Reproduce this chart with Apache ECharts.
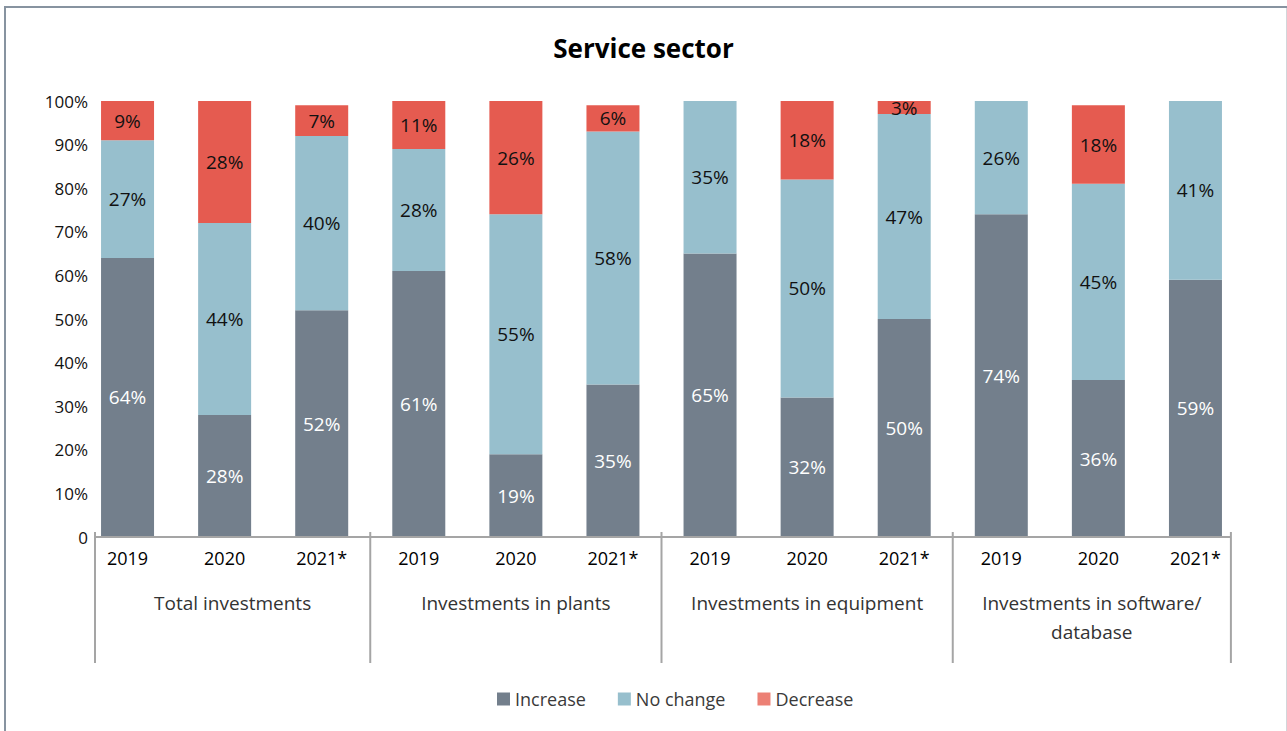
<!DOCTYPE html>
<html>
<head>
<meta charset="utf-8">
<script src="https://cdn.jsdelivr.net/npm/echarts@6/dist/echarts.min.js"></script>
<style>
  html, body { margin: 0; padding: 0; background: #ffffff; }
  #chart { width: 1287px; height: 731px; }
</style>
</head>
<body>
<div id="chart"></div>
<script>
// Survey answers, in percent, for each investment type and year
const years = ['2019', '2020', '2021*', '2019', '2020', '2021*', '2019', '2020', '2021*', '2019', '2020', '2021*'];
const groups = ['Total investments', 'Investments in plants', 'Investments in equipment', 'Investments in software/\ndatabase'];
const increase = [64, 28, 52, 61, 19, 35, 65, 32, 50, 74, 36, 59];
const noChange = [27, 44, 40, 28, 55, 58, 35, 50, 47, 26, 45, 41];
const decrease = [9, 28, 7, 11, 26, 6, 0, 18, 3, 0, 18, 0];
const yTicks = [0, 10, 20, 30, 40, 50, 60, 70, 80, 90, 100];

const FONT = 'Open Sans';
const COLORS = { increase: '#737f8c', noChange: '#97bfcd', decrease: '#e55b50' };

function pctLabel(p) {
  return p.value ? p.value + '%' : '';
}

function barSeries(name, values, color, labelColor) {
  return {
    name: name,
    type: 'bar',
    stack: 'answers',
    data: values,
    barWidth: 53,
    itemStyle: { color: color },
    label: {
      show: true,
      position: 'inside',
      formatter: pctLabel,
      fontFamily: FONT,
      fontSize: 19,
      color: labelColor
    },
    emphasis: { disabled: true }
  };
}

const chart = echarts.init(document.getElementById('chart'), null, { renderer: 'svg' });

chart.setOption({
  animation: false,
  textStyle: { fontFamily: FONT },
  title: {
    text: 'Service sector',
    left: 'center',
    top: 30,
    textStyle: { fontFamily: FONT, fontSize: 26, fontWeight: 'bold', color: '#000000' }
  },
  legend: {
    left: 497,
    top: 690,
    padding: 0,
    icon: 'rect',
    itemWidth: 13,
    itemHeight: 13,
    itemGap: 32,
    selectedMode: false,
    textStyle: { fontFamily: FONT, fontSize: 18, color: '#3a3a3a' },
    data: [
      { name: 'Increase' },
      { name: 'No change' },
      { name: 'Decrease', itemStyle: { color: '#ec8075' } }
    ]
  },
  grid: { left: 79, right: 43, top: 101, bottom: 194, containLabel: false },
  xAxis: {
    type: 'category',
    data: years,
    boundaryGap: true,
    axisLine: { show: false },
    axisTick: { show: false },
    axisLabel: {
      margin: 11,
      fontFamily: FONT,
      fontSize: 18,
      fontWeight: 'normal',
      lineHeight: 20,
      color: '#000000',
      interval: 0
    }
  },
  yAxis: {
    type: 'value',
    min: yTicks[0],
    max: yTicks[yTicks.length - 1],
    interval: yTicks[1] - yTicks[0],
    offset: -16,
    axisLine: { show: false },
    axisTick: { show: false },
    splitLine: { show: false },
    axisLabel: {
      margin: 7,
      fontFamily: FONT,
      fontSize: 17,
      color: '#111111',
      padding: [9, 0, 0, 0],
      formatter: function (v) { return v === 0 ? '0' : v + '%'; }
    }
  },
  series: [
    barSeries('Increase', increase, COLORS.increase, '#ffffff'),
    barSeries('No change', noChange, COLORS.noChange, '#111111'),
    barSeries('Decrease', decrease, COLORS.decrease, '#111111')
  ]
});

// Baseline, group separators and group captions, placed from the axis scale
function drawGroupAxis() {
  const px = function (i) { return chart.convertToPixel({ xAxisIndex: 0 }, i); };
  const y0 = chart.convertToPixel({ yAxisIndex: 0 }, 0);
  const band = px(1) - px(0);
  const per = 3;
  const bounds = [px(0) - band * 0.335];
  for (let g = 1; g < groups.length; g++) {
    bounds.push((px(g * per - 1) + px(g * per)) / 2);
  }
  bounds.push(px(years.length - 1) + band * 0.365);

  const elements = [];
  const lineStyle = { stroke: '#a5a5a5', lineWidth: 2 };
  elements.push({
    type: 'line', silent: true, z: 10,
    shape: { x1: bounds[0], y1: y0, x2: bounds[bounds.length - 1], y2: y0 },
    style: lineStyle
  });
  bounds.forEach(function (x) {
    elements.push({
      type: 'line', silent: true, z: 10,
      shape: { x1: x, y1: y0 - 5, x2: x, y2: 663 },
      style: lineStyle
    });
  });
  groups.forEach(function (name, g) {
    elements.push({
      type: 'text', silent: true, z: 10,
      style: {
        text: name,
        x: (bounds[g] + bounds[g + 1]) / 2,
        y: 588,
        textAlign: 'center',
        textVerticalAlign: 'top',
        fontFamily: FONT,
        fontSize: 19,
        lineHeight: 29,
        fill: '#333333'
      }
    });
  });
  // outer frame
  elements.push({ type: 'line', silent: true, shape: { x1: 4, y1: 7, x2: 1287, y2: 7 }, style: { stroke: '#8793a0', lineWidth: 2 } });
  elements.push({ type: 'line', silent: true, shape: { x1: 5, y1: 7, x2: 5, y2: 731 }, style: { stroke: '#8793a0', lineWidth: 2 } });
  elements.push({ type: 'line', silent: true, shape: { x1: 1286.5, y1: 8, x2: 1286.5, y2: 731 }, style: { stroke: '#d2d6da', lineWidth: 1 } });

  chart.setOption({ graphic: elements });
}
drawGroupAxis();
</script>
</body>
</html>
